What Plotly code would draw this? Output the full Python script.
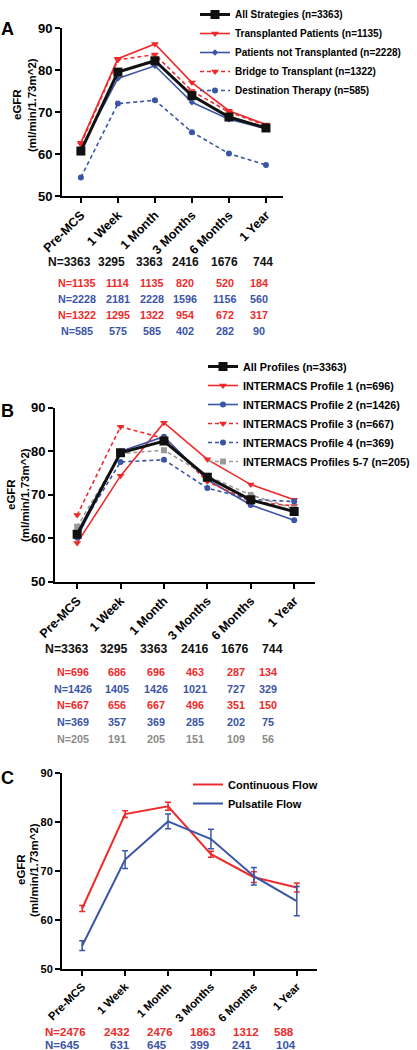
import plotly.graph_objects as go

W, H = 417, 1050

timepoints = ["Pre-MCS", "1 Week", "1 Month", "3 Months", "6 Months", "1 Year"]

# Panel A: by strategy
a_all = [60.7, 79.5, 82.2, 73.9, 68.8, 66.2]
a_tx = [62.7, 82.7, 86.2, 77.0, 70.3, 67.0]
a_notx = [61.3, 78.0, 81.0, 72.3, 68.3, 66.0]
a_btt = [62.3, 82.4, 83.7, 75.0, 70.0, 66.8]
a_dt = [54.4, 72.0, 72.8, 65.2, 60.1, 57.4]

# Panel B: by INTERMACS profile
b_all = [60.9, 79.6, 82.3, 74.0, 68.8, 66.1]
b_p1 = [58.9, 74.3, 86.5, 78.1, 72.3, 68.8]
b_p2 = [60.1, 79.9, 83.3, 73.4, 67.6, 64.1]
b_p3 = [65.3, 85.6, 82.9, 73.0, 68.4, 67.4]
b_p4 = [61.2, 77.5, 78.0, 71.5, 68.9, 68.4]
b_p57 = [62.6, 79.4, 80.2, 74.3, 69.9, 66.8]

# Panel C: by flow type (mean and error)
c_cf = [62.3, 81.6, 83.2, 73.4, 68.7, 66.6]
c_cf_err = [0.6, 0.7, 0.8, 0.6, 1.1, 0.9]
c_pf = [54.7, 72.3, 80.1, 76.5, 68.9, 63.8]
c_pf_err = [1.0, 1.8, 1.5, 2.0, 1.8, 3.0]

# N at risk tables
a_n_all = [3363, 3295, 3363, 2416, 1676, 744]
a_n_tx = [1135, 1114, 1135, 820, 520, 184]
a_n_notx = [2228, 2181, 2228, 1596, 1156, 560]
a_n_btt = [1322, 1295, 1322, 954, 672, 317]
a_n_dt = [585, 575, 585, 402, 282, 90]

b_n_all = [3363, 3295, 3363, 2416, 1676, 744]
b_n_p1 = [696, 686, 696, 463, 287, 134]
b_n_p2 = [1426, 1405, 1426, 1021, 727, 329]
b_n_p3 = [667, 656, 667, 496, 351, 150]
b_n_p4 = [369, 357, 369, 285, 202, 75]
b_n_p57 = [205, 191, 205, 151, 109, 56]

c_n_cf = [2476, 2432, 2476, 1863, 1312, 588]
c_n_pf = [645, 631, 645, 399, 241, 104]

RED = "#EE2A2A"
BLUE = "#3A55A6"
GRAY = "#9A9A9A"
GRAYTXT = "#8A8A8A"
BLACK = "#111111"
FONT = "Liberation Sans"


def py(p):
    return 1 - p / H


def px(p):
    return p / W


fig = go.Figure()


def add_series(y, name, color, dash, symbol, msize, lw, xa, ya, leg, rank):
    fig.add_trace(go.Scatter(
        x=timepoints, y=y, name=name, mode="lines+markers",
        line=dict(color=color, width=lw, dash=dash),
        marker=dict(symbol=symbol, size=msize, color=color),
        xaxis=xa, yaxis=ya, legend=leg, legendrank=rank))


D = "4px,3px"
# Panel A
add_series(a_tx, "Transplanted Patients (n=1135)", RED, "solid", "triangle-down", 7, 1.6, "x", "y", "legend", 2)
add_series(a_notx, "Patients not Transplanted (n=2228)", BLUE, "solid", "diamond", 5, 1.6, "x", "y", "legend", 3)
add_series(a_btt, "Bridge to Transplant (n=1322)", RED, D, "triangle-down", 7, 1.6, "x", "y", "legend", 4)
add_series(a_dt, "Destination Therapy (n=585)", BLUE, D, "circle", 6, 1.6, "x", "y", "legend", 5)
add_series(a_all, "All Strategies (n=3363)", BLACK, "solid", "square", 9, 3, "x", "y", "legend", 1)

# Panel B
add_series(b_p1, "INTERMACS Profile 1 (n=696)", RED, "solid", "triangle-down", 7, 1.6, "x2", "y2", "legend2", 2)
add_series(b_p2, "INTERMACS Profile 2 (n=1426)", BLUE, "solid", "circle", 6, 1.6, "x2", "y2", "legend2", 3)
add_series(b_p3, "INTERMACS Profile 3 (n=667)", RED, D, "triangle-down", 7, 1.6, "x2", "y2", "legend2", 4)
add_series(b_p4, "INTERMACS Profile 4 (n=369)", BLUE, D, "circle", 6, 1.6, "x2", "y2", "legend2", 5)
add_series(b_p57, "INTERMACS Profiles 5-7 (n=205)", GRAY, D, "square", 6, 1.6, "x2", "y2", "legend2", 6)
add_series(b_all, "All Profiles (n=3363)", BLACK, "solid", "square", 9, 3, "x2", "y2", "legend2", 1)

# Panel C
for y, err, name, color, rank in [(c_cf, c_cf_err, "Continuous Flow", RED, 1),
                                   (c_pf, c_pf_err, "Pulsatile Flow", BLUE, 2)]:
    fig.add_trace(go.Scatter(
        x=timepoints, y=y, name=name, mode="lines",
        line=dict(color=color, width=2),
        error_y=dict(type="data", array=err, visible=True, color=color, thickness=1.5, width=3),
        xaxis="x3", yaxis="y3", legend="legend3", legendrank=rank))

axis_common = dict(showline=True, linewidth=2, linecolor="black", ticks="outside",
                   ticklen=5, tickwidth=2, tickcolor="black", showgrid=False, zeroline=False)

panels = [
    # xdomain px, ydomain px (bottom, top), xrange, x tick font, y tick font
    ("xaxis", "yaxis", (62, 283), (196, 28), [-0.51, 5.46], 12.5, 13),
    ("xaxis2", "yaxis2", (55, 315), (581.7, 407.5), [-0.51, 5.48], 12.5, 13),
    ("xaxis3", "yaxis3", (62, 317), (968.7, 773), [-0.47, 5.47], 11.3, 11),
]
for i, (xk, yk, xd, yd, xr, fsx, fsy) in enumerate(panels):
    anchor_x = "y" if i == 0 else f"y{i+1}"
    anchor_y = "x" if i == 0 else f"x{i+1}"
    fig.update_layout(**{
        xk: dict(domain=[px(xd[0]), px(xd[1])], anchor=anchor_x, type="category",
                 range=xr, tickangle=-45,
                 tickfont=dict(family=FONT, size=fsx, color="black", weight="bold"),
                 **axis_common),
        yk: dict(domain=[py(yd[0]), py(yd[1])], anchor=anchor_y, range=[50, 90],
                 tickvals=[50, 60, 70, 80, 90],
                 tickfont=dict(family=FONT, size=fsy, color="black", weight="bold"),
                 **axis_common),
    })

annotations = []


def label(text, x, y, size, xref="paper", color="black", xshift=0, angle=0, xanchor="center"):
    annotations.append(dict(text=text, x=x, y=y, xref=xref, yref="paper", showarrow=False,
                            xanchor=xanchor, yanchor="middle", xshift=xshift, textangle=angle,
                            borderpad=0,
                            font=dict(family=FONT, size=size, color=color, weight="bold")))


# Panel letters
label("A", px(7.5), py(29), 18)
label("B", px(7), py(411), 18)
label("C", px(7), py(778), 18)

# Y axis titles
for (x1, x2, yc) in [(17, 32, 105), (11, 25, 495), (21, 34, 870)]:
    label("eGFR", px(x1), py(yc), 11.5, angle=-90)
    label("(ml/min/1.73m^2)", px(x2), py(yc), 11.5, angle=-90)


def table(rows, xref):
    for vals, color, ypx, fs, shifts in rows:
        for j, v in enumerate(vals):
            txt = f"N={v}" if j == 0 else str(v)
            label(txt, timepoints[j], py(ypx), fs, xref=xref, color=color, xshift=shifts[j])


sA1 = [-11.5, -6, -5, -6, -4, -3]
sA2 = [-3.5, 0, -3, -6.5, -4, -6.5]
table([(a_n_all, BLACK, 261.7, 12, sA1),
       (a_n_tx, RED, 282.7, 10.8, sA2),
       (a_n_notx, BLUE, 299.3, 10.8, sA2),
       (a_n_btt, RED, 315, 10.8, sA2),
       (a_n_dt, BLUE, 331, 10.8, sA2)], "x")

sB1 = [-10, -7, -10, -12.6, -15.7, -21.8]
sB2 = [-3.7, -3.2, -8.2, -12.8, -15, -26]
table([(b_n_all, BLACK, 649.3, 12.3, sB1),
       (b_n_p1, RED, 671.7, 10.8, sB2),
       (b_n_p2, BLUE, 689, 10.8, sB2),
       (b_n_p3, RED, 705, 10.8, sB2),
       (b_n_p4, BLUE, 721.7, 10.8, sB2),
       (b_n_p57, GRAYTXT, 739, 10.8, sB2)], "x2")

sC1 = [-17, -8.3, -8, -8.2, -8.3, -12.9]
sC2 = [-20, -5.3, -11, -11.5, -11.6, -11.2]
table([(c_n_cf, RED, 1031.5, 11.5, sC1),
       (c_n_pf, BLUE, 1044.5, 11.5, sC2)], "x3")

legend_common = dict(bgcolor="rgba(0,0,0,0)", borderwidth=0, xanchor="left", yanchor="top",
                     itemwidth=30, tracegroupgap=0)
fig.update_layout(
    annotations=annotations,
    width=W, height=H,
    margin=dict(l=0, r=0, t=0, b=0, autoexpand=False),
    paper_bgcolor="white", plot_bgcolor="white",
    legend=dict(x=px(195), y=1, font=dict(family=FONT, size=10, color="black", weight="bold"),
                **legend_common),
    legend2=dict(x=px(203), y=py(352), font=dict(family=FONT, size=10.8, color="black", weight="bold"),
                 **legend_common),
    legend3=dict(x=px(188), y=py(770), font=dict(family=FONT, size=11, color="black", weight="bold"),
                 **legend_common),
)

fig.write_html("out.html", config={"displayModeBar": False},
               post_script="document.body.style.margin='0px';")
